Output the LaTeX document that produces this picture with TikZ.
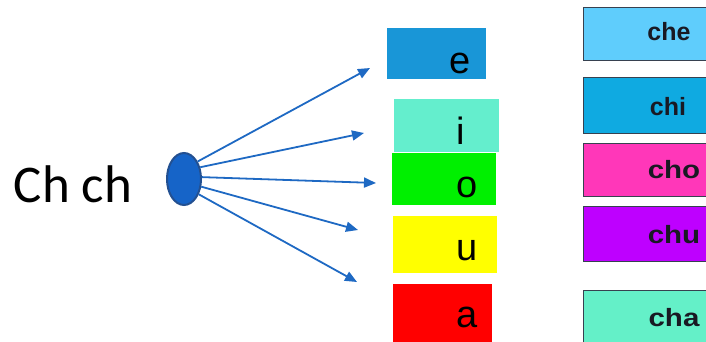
\documentclass[tikz,border=0pt]{standalone}
\usepackage{fontspec}
\setmainfont{Liberation Sans}
\newfontfamily\bodyfont{Carlito}
\usetikzlibrary{arrows.meta}
\usetikzlibrary{shapes.geometric}

\definecolor{hubfill}{RGB}{22,100,200}
\definecolor{hubedge}{RGB}{35,80,145}
\definecolor{linkblue}{RGB}{30,105,195}
\definecolor{boxedge}{RGB}{55,65,80}
\definecolor{eblue}{RGB}{25,150,215}
\definecolor{iaqua}{RGB}{100,238,205}
\definecolor{ogreen}{RGB}{0,240,0}
\definecolor{uyellow}{RGB}{255,255,0}
\definecolor{ared}{RGB}{255,0,0}
\definecolor{cheblue}{RGB}{95,205,252}
\definecolor{chiblue}{RGB}{15,170,225}
\definecolor{chopink}{RGB}{255,55,185}
\definecolor{chupurple}{RGB}{190,0,255}
\definecolor{chaaqua}{RGB}{100,240,200}
\definecolor{syltext}{RGB}{25,25,35}

\newcommand{\widesyl}[1]{\scalebox{1.18}[1]{#1}}

\begin{document}
\begin{tikzpicture}[
  x=1pt, y=-1pt,
  hub/.style={ellipse, fill=hubfill, draw=hubedge, line width=2pt,
    minimum width=34pt, minimum height=52pt, inner sep=0pt},
  link/.style={linkblue, line width=1.8pt, -{Triangle[length=12pt,width=10pt]}},
  vowelbox/.style={fill=#1, inner sep=0pt, anchor=north west},
  vowel/.style={anchor=base, font=\fontsize{38}{44}\selectfont},
  sylbox/.style={fill=#1, draw=boxedge, line width=1.4pt, inner sep=0pt,
    anchor=north west, minimum width=129pt},
  syl/.style={anchor=base, text=syltext, font=\fontsize{25}{30}\selectfont\bfseries}
]
\useasboundingbox (0,0) rectangle (706,341);

% Left label and hub
\node[anchor=base, font=\bodyfont\fontsize{53}{60}\selectfont] (title) at (73,202) {Ch ch};
\node[hub] (hub) at (184,179) {};

% Vowel boxes
\node[vowelbox=eblue, minimum width=99pt, minimum height=51pt] (be) at (387,28) {};
\node[vowelbox=iaqua, minimum width=105pt, minimum height=53pt] (bi) at (394,99) {};
\node[vowelbox=ogreen, minimum width=104pt, minimum height=52pt] (bo) at (392,153) {};
\node[vowelbox=uyellow, minimum width=104pt, minimum height=57pt] (bu) at (393,216) {};
\node[vowelbox=ared, minimum width=99pt, minimum height=62pt] (ba) at (393,284) {};

\node[vowel] (le) at (460,73) {e};
\node[vowel] (li) at (461,144) {i};
\node[vowel] (lo) at (467,197) {o};
\node[vowel] (lu) at (467,260) {u};
\node[vowel] (la) at (467,327) {a};

% Arrow ends
\coordinate (pe) at (370,68);
\coordinate (pi) at (364,133);
\coordinate (po) at (376,183);
\coordinate (pu) at (358,230);
\coordinate (pa) at (357,282);

\draw[link] (hub.52) -- (pe);
\draw[link] (hub.36) -- (pi);
\draw[link] (hub.6) -- (po);
\draw[link] (hub.-24) -- (pu);
\draw[link] (hub.-46) -- (pa);

% Syllable boxes
\node[sylbox=cheblue, minimum height=53pt] (bche) at (583,7) {};
\node[sylbox=chiblue, minimum height=56pt] (bchi) at (583,77) {};
\node[sylbox=chopink, minimum height=53pt] (bcho) at (583,143) {};
\node[sylbox=chupurple, minimum height=55pt] (bchu) at (583,206) {};
\node[sylbox=chaaqua, minimum height=58pt] (bcha) at (583,290) {};

\node[syl] (sche) at (669,40) {che};
\node[syl] (schi) at (668,115) {chi};
\node[syl] (scho) at (674,178) {\widesyl{cho}};
\node[syl] (schu) at (674,243) {\widesyl{chu}};
\node[syl] (scha) at (674,326) {\widesyl{cha}};
\end{tikzpicture}
\end{document}
